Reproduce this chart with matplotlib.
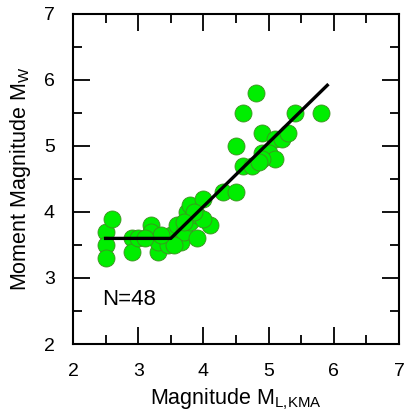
import matplotlib
matplotlib.use("Agg")
import matplotlib.pyplot as plt
from matplotlib.ticker import MultipleLocator

plt.rcParams['font.family'] = ['Liberation Sans', 'DejaVu Sans']
plt.rcParams['mathtext.default'] = 'regular'

ml = [2.5, 2.5, 2.5, 2.6, 2.9, 2.9, 3.0, 3.2, 3.2, 3.3, 3.4, 3.3, 3.45, 3.5,
      3.6, 3.65, 3.7, 3.75, 3.8, 3.8, 3.9, 3.9, 4.0, 4.1, 4.0, 3.55, 4.3, 4.5,
      4.6, 4.75, 4.8, 4.6, 5.4, 5.8, 4.9, 4.5, 5.1, 5.2, 5.3, 4.9, 5.0, 5.1,
      4.9, 3.85, 3.7, 4.85, 3.35, 3.1]
mw = [3.7, 3.5, 3.3, 3.9, 3.6, 3.4, 3.6, 3.8, 3.7, 3.4, 3.6, 3.55, 3.5, 3.65,
      3.8, 3.55, 3.7, 4.0, 4.1, 3.85, 3.6, 3.95, 4.2, 3.8, 3.9, 3.5, 4.3, 4.3,
      4.7, 4.7, 5.8, 5.5, 5.5, 5.5, 5.2, 5.0, 5.1, 5.1, 5.2, 4.9, 4.9, 4.8,
      4.8, 4.0, 3.85, 4.75, 3.65, 3.6]

fit_x = [2.5, 3.5, 5.9]
fit_y = [3.6, 3.6, 5.92]

fig = plt.figure(figsize=(4.08, 4.19), dpi=100)
ax = fig.add_axes([73/408, 75/419, 326/408, 330/419])

ax.scatter(ml, mw, s=150, facecolor='#00ee00', edgecolor='#3f8f22',
           linewidth=0.6, zorder=2)
ax.plot(fit_x, fit_y, color='black', lw=2.4, zorder=3)

ax.set_xlim(2, 7)
ax.set_ylim(2, 7)
ax.xaxis.set_major_locator(MultipleLocator(1))
ax.xaxis.set_minor_locator(MultipleLocator(0.5))
ax.yaxis.set_major_locator(MultipleLocator(1))
ax.yaxis.set_minor_locator(MultipleLocator(0.5))
ax.tick_params(which='both', direction='in', top=True, right=True,
               width=1.3, labelsize=14)
ax.tick_params(axis='x', which='both', pad=14)
ax.tick_params(axis='y', which='both', pad=13)
ax.tick_params(which='major', length=12)
ax.tick_params(which='minor', length=6.5)
for sp in ax.spines.values():
    sp.set_linewidth(1.5)

ax.set_xlabel(r'Magnitude M$_{L{,}KMA}$', fontsize=15.5, labelpad=4)
ax.set_ylabel(r'Moment Magnitude M$_{W}$', fontsize=15.5, labelpad=8)
ax.text(2.45, 2.67, 'N=48', fontsize=16, va='center', ha='left')

fig.savefig('out.png', dpi=100)
